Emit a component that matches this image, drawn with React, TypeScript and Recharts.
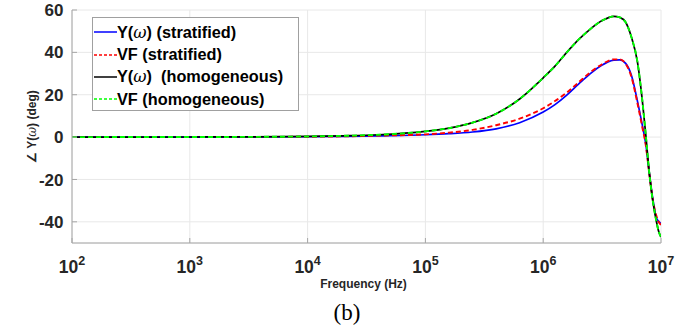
import React from 'react';
import { LineChart, Line, XAxis, YAxis, CartesianGrid, Legend } from 'recharts';

// Frequency samples (Hz)
const freqHz = [
  100, 1000, 3162, 10000, 19953, 39811, 100000, 158489, 251189, 398107, 630957,
  1000000, 1258925, 1584893, 1995262, 2511886, 3162278, 3548134, 3981072, 4466836,
  5011872, 5623413, 6309573, 6918310, 7413102, 7943282, 8511380, 9120108, 9549926, 10000000,
];

// Phase of Y(w), stratified soil (deg)
const yStratified = [
  0, 0.02, 0.05, 0.15, 0.3, 0.6, 1.1, 1.6, 2.4, 3.9, 6.8,
  11.8, 15.3, 19.8, 25, 30, 34, 35.5, 36.3, 36.5,
  34.8, 29, 17, 6, -3, -16.5, -29, -38, -39.8, -40.8,
];

// Vector fitting, stratified soil (deg)
const vfStratified = [
  0, 0.02, 0.06, 0.18, 0.35, 0.7, 1.3, 2.1, 3.4, 5.6, 8.7,
  13.6, 17, 21, 25.8, 30.6, 34.4, 35.9, 36.7, 36.7,
  34.6, 28.2, 16, 5, -3.5, -17, -29.5, -37, -40, -41.5,
];

// Phase of Y(w), homogeneous soil (deg)
const yHomogeneous = [
  0, 0.05, 0.1, 0.3, 0.6, 1.1, 2.7, 4.2, 6.8, 11, 18,
  28, 33.5, 40, 46, 51, 55, 56.3, 57, 56.5,
  54.2, 47, 35.5, 18, 1.5, -16.5, -30, -39.5, -44.5, -47.2,
];

// Vector fitting, homogeneous soil (deg)
const vfHomogeneous = [
  0, 0.05, 0.1, 0.3, 0.6, 1.1, 2.7, 4.2, 6.8, 11, 18,
  28, 33.5, 40, 46, 51, 55, 56.3, 57, 56.5,
  54.2, 47, 35.5, 18, 1.5, -16.5, -30, -39.5, -44.5, -47.2,
];

const xTicks = [100, 1000, 10000, 100000, 1000000, 10000000];
const xTickExponents = ['2', '3', '4', '5', '6', '7'];
const yTicks = [-40, -20, 0, 20, 40, 60];

const legendItems = [
  { pre: 'Y(', w: true, post: ') (stratified)', color: '#0000ff', dash: '' },
  { pre: 'VF (stratified)', w: false, post: '', color: '#ff0000', dash: '3 2' },
  { pre: 'Y(', w: true, post: ')  (homogeneous)', color: '#000000', dash: '' },
  { pre: 'VF (homogeneous)', w: false, post: '', color: '#00ff00', dash: '3 2' },
];

const data = freqHz.map((f, i) => ({
  f,
  ys: yStratified[i],
  vs: vfStratified[i],
  yh: yHomogeneous[i],
  vh: vfHomogeneous[i],
}));

const FONT = '"Liberation Sans", Arial, Helvetica, sans-serif';
const TXT = '#262626';
const AXIS = '#a6a6a6';

const XTick = (props: any) => {
  const { x, y, payload } = props;
  const idx = xTicks.indexOf(payload.value);
  const exp = idx >= 0 ? xTickExponents[idx] : '';
  return (
    <g>
      <line x1={x} y1={y} x2={x} y2={y - 5} stroke={AXIS} strokeWidth={1} />
      <text x={x} y={y + 30} textAnchor="middle" fontFamily={FONT} fontWeight="bold" fill={TXT}>
        <tspan fontSize={17.5}>10</tspan>
        <tspan fontSize={12.5} dy={-8}>{exp}</tspan>
      </text>
    </g>
  );
};

const XTopTick = (props: any) => {
  const { x, y } = props;
  return <line x1={x} y1={y} x2={x} y2={y + 5} stroke={AXIS} strokeWidth={1} />;
};

const YTick = (props: any) => {
  const { x, y, payload } = props;
  return (
    <g>
      <line x1={x} y1={y} x2={x + 5} y2={y} stroke={AXIS} strokeWidth={1} />
      <text x={x - 8.5} y={y} dy="0.36em" textAnchor="end" fontFamily={FONT} fontWeight="bold" fontSize={17} fill={TXT}>
        {payload.value}
      </text>
    </g>
  );
};

const YRightTick = (props: any) => {
  const { x, y } = props;
  return <line x1={x} y1={y} x2={x - 5} y2={y} stroke={AXIS} strokeWidth={1} />;
};

const YLabel = (props: any) => {
  const vb = props.viewBox || { x: 0, y: 0, width: 72, height: 233 };
  const cx = vb.x + 32;
  const cy = vb.y + vb.height / 2;
  return (
    <text
      x={cx}
      y={cy}
      dy="0.35em"
      textAnchor="middle"
      transform={`rotate(-90, ${cx}, ${cy})`}
      fontFamily={FONT}
      fontWeight="bold"
      fontSize={12}
      fill={TXT}
    >
      <tspan>∠ Y(</tspan>
      <tspan fontStyle="italic" fontFamily='"DejaVu Serif", serif' fontWeight="normal">ω</tspan>
      <tspan>) (deg)</tspan>
    </text>
  );
};

const XLabel = (props: any) => {
  const vb = props.viewBox || { x: 72, y: 243, width: 589, height: 50 };
  return (
    <text
      x={vb.x + vb.width / 2 - 3}
      y={vb.y + 44.5}
      textAnchor="middle"
      fontFamily={FONT}
      fontWeight="bold"
      fontSize={12}
      fill={TXT}
    >
      Frequency (Hz)
    </text>
  );
};

const LegendBox = () => (
  <div
    style={{
      border: '1px solid #a0a0a0',
      background: '#fff',
      width: 205,
      height: 89,
      paddingTop: 3,
      boxSizing: 'content-box',
      fontFamily: FONT,
      fontWeight: 'bold',
      fontSize: 16.3,
      color: '#000',
    }}
  >
    {legendItems.map((it, i) => (
      <div key={i} style={{ display: 'flex', alignItems: 'center', height: 22.4, whiteSpace: 'pre' }}>
        <svg width={23} height={4} style={{ marginLeft: 1, marginRight: 0 }}>
          <line x1={0} y1={2} x2={23} y2={2} stroke={it.color} strokeWidth={1.5} strokeDasharray={it.dash || undefined} />
        </svg>
        <span>
          {it.pre}
          {it.w ? (
            <span style={{ fontStyle: 'italic', fontFamily: '"DejaVu Serif", serif', fontWeight: 'normal' }}>ω</span>
          ) : null}
          {it.post}
        </span>
      </div>
    ))}
  </div>
);

export default function App() {
  return (
    <div style={{ position: 'absolute', left: 0, top: 0, width: 696, height: 329, background: '#fff' }}>
      <LineChart width={696} height={329} data={data} margin={{ top: 10, right: 35, bottom: 36, left: 0 }}>
        <CartesianGrid stroke="#e8e8e8" strokeWidth={1} />
        <XAxis
          dataKey="f"
          type="number"
          scale="log"
          domain={[100, 10000000]}
          ticks={xTicks}
          interval={0}
          allowDataOverflow
          height={50}
          tickSize={0}
          tickMargin={0}
          tickLine={false}
          axisLine={{ stroke: AXIS }}
          tick={<XTick />}
          label={<XLabel />}
        />
        <XAxis
          xAxisId="top"
          dataKey="f"
          type="number"
          scale="log"
          orientation="top"
          domain={[100, 10000000]}
          ticks={xTicks}
          interval={0}
          allowDataOverflow
          height={0}
          tickSize={0}
          tickMargin={0}
          tickLine={false}
          axisLine={{ stroke: AXIS }}
          tick={<XTopTick />}
        />
        <YAxis
          type="number"
          domain={[-50, 60]}
          ticks={yTicks}
          interval={0}
          allowDataOverflow
          width={72}
          tickSize={0}
          tickMargin={0}
          tickLine={false}
          axisLine={{ stroke: AXIS }}
          tick={<YTick />}
          label={<YLabel />}
        />
        <YAxis
          yAxisId="right"
          orientation="right"
          type="number"
          domain={[-50, 60]}
          ticks={yTicks}
          interval={0}
          allowDataOverflow
          width={0}
          tickSize={0}
          tickMargin={0}
          tickLine={false}
          axisLine={{ stroke: AXIS }}
          tick={<YRightTick />}
        />
        <Line type="monotone" dataKey="ys" stroke="#0000ff" strokeWidth={1.7} dot={false} isAnimationActive={false} />
        <Line type="monotone" dataKey="vs" stroke="#ff0000" strokeWidth={1.9} strokeDasharray="5 3" dot={false} isAnimationActive={false} />
        <Line type="monotone" dataKey="yh" stroke="#000000" strokeWidth={1.7} dot={false} isAnimationActive={false} />
        <Line type="monotone" dataKey="vh" stroke="#00ff00" strokeWidth={1.9} strokeDasharray="5 3" dot={false} isAnimationActive={false} />
        <Legend
          layout="vertical"
          align="center"
          verticalAlign="middle"
          content={() => <LegendBox />}
          wrapperStyle={{ position: 'absolute', left: 92, top: 17, width: 'auto', height: 'auto' }}
        />
      </LineChart>
      <div
        style={{
          position: 'absolute',
          left: 0,
          width: 694,
          top: 301,
          textAlign: 'center',
          fontFamily: '"Liberation Serif", "DejaVu Serif", serif',
          fontSize: 23,
          lineHeight: '23px',
          color: '#000',
        }}
      >
        (b)
      </div>
    </div>
  );
}
